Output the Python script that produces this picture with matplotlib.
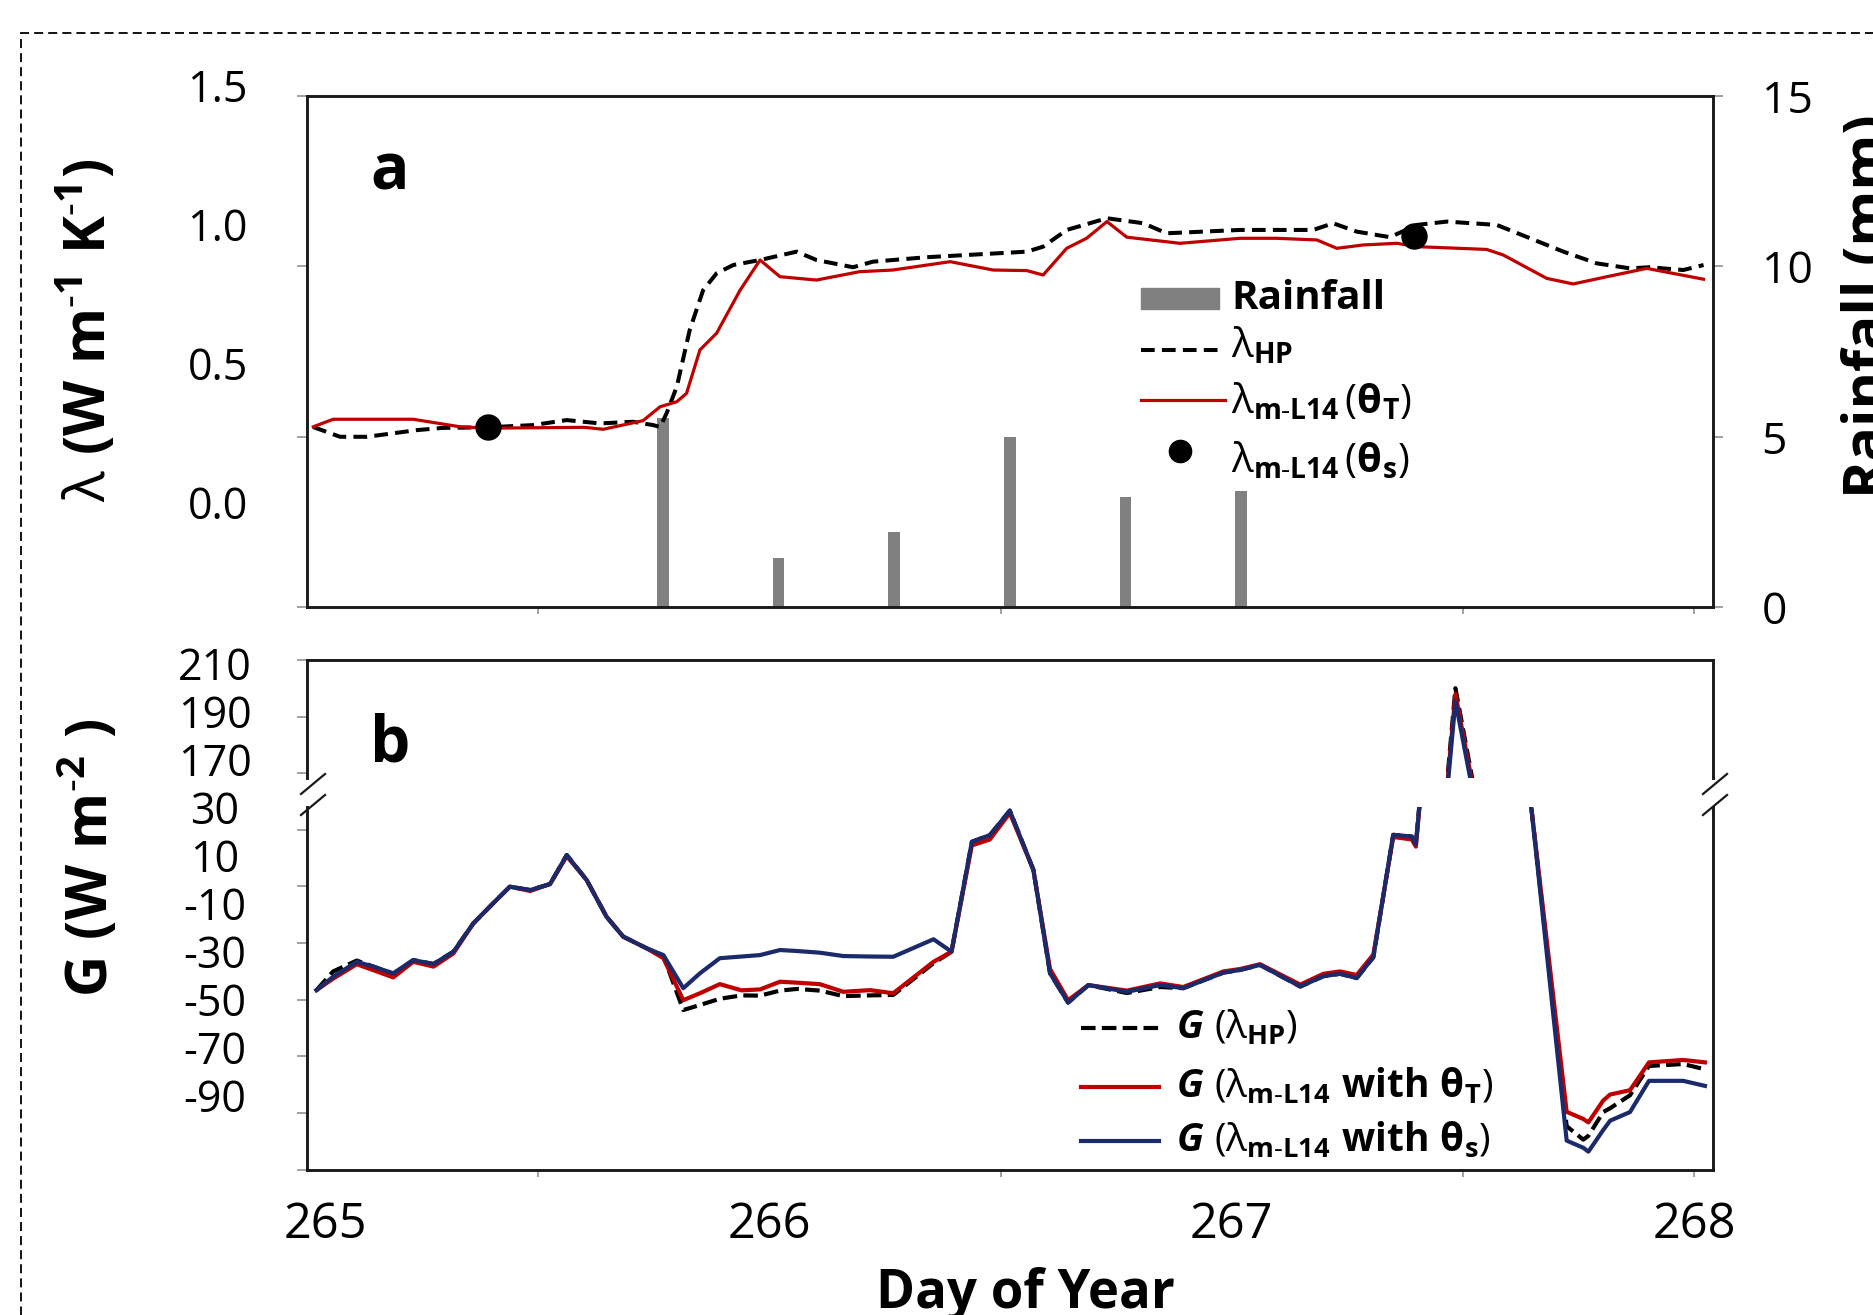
import matplotlib
matplotlib.use("Agg")
import matplotlib.pyplot as plt
import matplotlib.transforms as mtransforms
from matplotlib.lines import Line2D
from matplotlib.patches import Rectangle

# ------------------------------------------------------------------ data
# panel a : lambda (W m-1 K-1) vs day of year
lam_hp_day = [265.014, 265.072, 265.130, 265.238, 265.294, 265.392, 265.489, 265.562, 265.634, 265.705,
              265.749, 265.764, 265.778, 265.800, 265.828, 265.857, 265.886, 265.922, 265.980, 266.059,
              266.102, 266.181, 266.224, 266.340, 266.557, 266.592, 266.643, 266.730, 266.809, 266.859,
              267.018, 267.176, 267.219, 267.270, 267.342, 267.400, 267.465, 267.573, 267.645, 267.717,
              267.789, 267.861, 267.903, 267.976, 268.020]
lam_hp = [0.271, 0.236, 0.236, 0.260, 0.268, 0.270, 0.278, 0.296, 0.284, 0.290,
          0.278, 0.271, 0.321, 0.416, 0.620, 0.763, 0.823, 0.853, 0.871, 0.901,
          0.871, 0.845, 0.865, 0.881, 0.901, 0.919, 0.979, 1.021, 1.003, 0.967,
          0.979, 0.979, 1.003, 0.973, 0.953, 0.997, 1.009, 0.997, 0.949, 0.901,
          0.859, 0.841, 0.845, 0.835, 0.853]

lam_mT_day = [265.014, 265.057, 265.230, 265.331, 265.389, 265.600, 265.641, 265.727, 265.764, 265.800,
              265.821, 265.850, 265.886, 265.937, 265.980, 266.023, 266.102, 266.195, 266.267, 266.391,
              266.484, 266.557, 266.592, 266.643, 266.686, 266.730, 266.773, 266.888, 267.018, 267.097,
              267.184, 267.227, 267.284, 267.357, 267.400, 267.551, 267.587, 267.681, 267.738, 267.811,
              267.897, 268.020]
lam_mT = [0.272, 0.299, 0.299, 0.272, 0.267, 0.270, 0.263, 0.294, 0.344, 0.362,
          0.392, 0.548, 0.608, 0.763, 0.871, 0.811, 0.799, 0.829, 0.835, 0.865,
          0.835, 0.833, 0.817, 0.913, 0.949, 1.009, 0.953, 0.931, 0.949, 0.949,
          0.943, 0.913, 0.925, 0.931, 0.919, 0.909, 0.889, 0.805, 0.785, 0.811,
          0.841, 0.802]

lam_mS_day = [265.392, 267.393]
lam_mS = [0.270, 0.957]

rain_day = [265.77, 266.02, 266.27, 266.52, 266.77, 267.02]
rain_mm = [5.55, 1.45, 2.2, 5.0, 3.25, 3.4]

# panel b : soil heat flux G (W m-2)
g_day = [265.021, 265.057, 265.108, 265.144, 265.187, 265.230, 265.274, 265.317, 265.360, 265.403,
         265.439, 265.483, 265.526, 265.562, 265.605, 265.648, 265.684, 265.735, 265.771, 265.814,
         265.850, 265.893, 265.940, 265.980, 266.023, 266.060, 266.109, 266.160, 266.218, 266.268,
         266.355, 266.394, 266.438, 266.477, 266.520, 266.571, 266.607, 266.646, 266.690, 266.773,
         266.845, 266.895, 266.982, 267.018, 267.061, 267.148, 267.198, 267.234, 267.270, 267.306,
         267.349, 267.389, 267.398, 267.4835, 267.648, 267.724, 267.760, 267.771, 267.803, 267.818,
         267.861, 267.902, 267.976, 268.023]
g_hp = [-46.3, -38.5, -34.0, -36.5, -39.5, -33.8, -35.4, -30.3, -18.5, -10.1,
        -3.2, -4.6, -2.1, 10.0, -0.4, -15.7, -24.0, -28.9, -32.0, -54.6,
        -52.5, -49.9, -48.5, -48.6, -46.5, -45.8, -46.5, -48.8, -48.5, -48.3,
        -35.1, -30.3, 15.5, 18.3, 28.5, 3.8, -39.3, -51.5, -44.2, -47.5,
        -45.0, -45.5, -39.0, -37.9, -35.8, -44.8, -40.5, -39.5, -41.3, -32.6,
        18.4, 17.7, 14.5, 199.4, 29.0, -103.0, -108.6, -107.0, -97.1, -95.5,
        -90.1, -77.9, -77.1, -79.3]
g_mT = [-46.3, -41.5, -35.5, -38.0, -41.0, -34.5, -36.5, -31.0, -18.5, -10.1,
        -3.2, -5.0, -2.1, 9.5, -0.4, -15.7, -24.0, -28.9, -33.0, -50.5,
        -47.6, -43.8, -46.4, -46.0, -42.8, -43.2, -43.8, -47.0, -46.3, -47.6,
        -34.5, -30.3, 14.0, 16.5, 27.5, 3.8, -37.5, -50.5, -44.2, -46.5,
        -43.5, -45.0, -38.5, -37.5, -35.5, -44.0, -39.5, -38.5, -40.0, -31.5,
        17.5, 16.5, 13.5, 197.0, 29.0, -97.0, -100.0, -101.4, -92.3, -89.8,
        -88.0, -76.4, -75.4, -76.4]
g_mS = [-46.3, -40.7, -34.5, -36.5, -39.3, -33.8, -35.4, -30.3, -18.5, -10.1,
        -3.2, -4.6, -2.1, 10.0, -0.4, -15.7, -24.0, -28.9, -31.7, -45.5,
        -39.3, -33.0, -32.3, -31.7, -29.6, -30.0, -30.7, -32.1, -32.3, -32.4,
        -25.1, -30.3, 15.5, 18.3, 28.5, 3.8, -39.3, -51.5, -44.2, -47.0,
        -44.2, -45.5, -39.0, -37.9, -35.8, -44.8, -40.5, -39.5, -41.3, -32.6,
        18.4, 17.7, 14.5, 194.0, 29.0, -109.0, -112.0, -113.6, -104.6, -100.7,
        -97.1, -84.1, -84.1, -86.2]

lam_tick_vals = [0.0, 0.5, 1.0, 1.5]
lam_tick_labels = ["0.0", "0.5", "1.0", "1.5"]
rain_ticks = [0, 5, 10, 15]
g_upper_ticks = [210, 190, 170]
g_lower_ticks = [30, 10, -10, -30, -50, -70, -90]
day_ticks = [265, 266, 267, 268]
day_marks = [265.5, 266.5, 267.5, 268]

# ------------------------------------------------------------------ style
FONT = "Open Sans"
plt.rcParams["font.family"] = [FONT, "DejaVu Sans"]
plt.rcParams["mathtext.fontset"] = "custom"
plt.rcParams["mathtext.rm"] = FONT
plt.rcParams["mathtext.it"] = FONT + ":italic"
plt.rcParams["mathtext.bf"] = FONT + ":bold"
plt.rcParams["mathtext.bfit"] = FONT + ":italic:bold"
plt.rcParams["mathtext.sf"] = FONT

RED = "#C00000"
BLUE = "#1B2A6B"
BARGREY = "#808080"
TICKC = "#9a9a9a"
SPINEC = "#1a1a1a"

W, H, DPI = 1873, 1315, 100
fig = plt.figure(figsize=(W / DPI, H / DPI), dpi=DPI)
fig.patch.set_facecolor("white")


def fx(x):
    return x / W


def fy(y):
    return 1 - y / H


X0, X1 = 306.8, 1713.0


def rect(top, bottom):
    return [fx(X0), fy(bottom), fx(X1) - fx(X0), fy(top) - fy(bottom)]


XLIM = (265.0, 268.0404)
LAM_LIM = (-0.3768, 1.4601)
GU_LIM = (162.0, 211.17)
GL_LIM = (-121.04, 30.0)

ax_a = fig.add_axes(rect(96, 607.4))
ax_r = ax_a.twinx()
ax_bu = fig.add_axes(rect(660, 778))
ax_bl = fig.add_axes(rect(807, 1169.5))

# ------------------------------------------------------------------ panel a
ax_r.bar(rain_day, rain_mm, width=0.025, color=BARGREY, zorder=1)
ax_r.set_ylim(0, 15)
ax_r.set_yticks(rain_ticks, labels=[str(v) for v in rain_ticks])
ax_r.tick_params(axis="y", direction="out", length=7, width=1.3, color=TICKC,
                 labelsize=32, pad=28)
for s in ax_r.spines.values():
    s.set_visible(False)

ax_a.set_zorder(ax_r.get_zorder() + 1)
ax_a.patch.set_visible(False)
ax_a.plot(lam_hp_day, lam_hp, color="black", lw=2.9, ls=(0, (3.4, 1.8)), zorder=3)
ax_a.plot(lam_mT_day, lam_mT, color=RED, lw=2.3, zorder=4)
ax_a.plot(lam_mS_day, lam_mS, "o", color="black", ms=18, ls="none", zorder=5)
ax_a.set_xlim(XLIM)
ax_a.set_ylim(LAM_LIM)
ax_a.set_yticks([LAM_LIM[0] + f * (LAM_LIM[1] - LAM_LIM[0]) for f in (0, 1 / 3, 2 / 3, 1)],
                labels=[])
ax_a.tick_params(axis="y", direction="out", length=7, width=1.3, color=TICKC)
ax_a.set_xticks(day_marks, labels=[])
ax_a.tick_params(axis="x", direction="out", length=5, width=1.3, color=TICKC)
for s in ax_a.spines.values():
    s.set_linewidth(2.1)
    s.set_color(SPINEC)

trans_a = mtransforms.blended_transform_factory(fig.transFigure, ax_a.transData)
for v, lab in zip(lam_tick_vals, lam_tick_labels):
    ax_a.text(fx(217.6), v, lab, transform=trans_a, ha="center", va="center_baseline",
              fontsize=31, clip_on=False)

# ------------------------------------------------------------------ panel b
for ax in (ax_bu, ax_bl):
    ax.plot(g_day, g_hp, color="black", lw=3.0, ls=(0, (3.5, 1.5)), zorder=2)
    ax.plot(g_day, g_mT, color=RED, lw=3.0, zorder=3)
    ax.plot(g_day, g_mS, color=BLUE, lw=3.0, zorder=4)
    ax.set_xlim(XLIM)
    for s in ax.spines.values():
        s.set_linewidth(2.1)
        s.set_color(SPINEC)
ax_bu.set_ylim(GU_LIM)
ax_bl.set_ylim(GL_LIM)
ax_bu.spines["bottom"].set_visible(False)
ax_bl.spines["top"].set_visible(False)
ax_bu.tick_params(axis="x", bottom=False, labelbottom=False)

# tick marks: 10 evenly spaced marks along the whole panel height
top_px, bot_px = 660.0, 1169.5
up_ticks, lo_ticks = [], []
for k in range(10):
    ypx = top_px + k * (bot_px - top_px) / 9
    if ypx <= 778:
        disp = fig.transFigure.transform((0, fy(ypx)))
        up_ticks.append(ax_bu.transData.inverted().transform(disp)[1])
    elif ypx >= 807:
        disp = fig.transFigure.transform((0, fy(ypx)))
        lo_ticks.append(ax_bl.transData.inverted().transform(disp)[1])
ax_bu.set_yticks(up_ticks, labels=[])
ax_bl.set_yticks(lo_ticks, labels=[])
for ax in (ax_bu, ax_bl):
    ax.tick_params(axis="y", direction="out", length=7, width=1.3, color=TICKC)

ax_bl.set_xticks(day_marks, labels=[])
ax_bl.tick_params(axis="x", direction="out", length=5, width=1.3, color=TICKC)

for ax, vals in ((ax_bu, g_upper_ticks), (ax_bl, g_lower_ticks)):
    tr = mtransforms.blended_transform_factory(fig.transFigure, ax.transData)
    for v in vals:
        ax.text(fx(215), v, f"{v:d}", transform=tr, ha="center", va="center_baseline",
                fontsize=31, clip_on=False)

trx = mtransforms.blended_transform_factory(ax_bl.transData, fig.transFigure)
for i, d in enumerate(day_ticks):
    t = trx
    if i == 0:
        t = trx + mtransforms.ScaledTranslation(0.19, 0, fig.dpi_scale_trans)
    ax_bl.text(d, fy(1238.3), f"{d:d}", transform=t, ha="center", va="baseline",
               fontsize=35, clip_on=False)

# axis-break marks
for xc in (313.0, 1715.0):
    for yc in (784.0, 805.0):
        fig.add_artist(Line2D([fx(xc - 12), fx(xc + 12)], [fy(yc + 10), fy(yc - 10)],
                              transform=fig.transFigure, color=SPINEC, lw=1.6))

# ------------------------------------------------------------------ texts
fig.text(fx(390), fy(189), "a", ha="center", va="baseline", fontsize=46, fontweight="bold")
fig.text(fx(390), fy(761), "b", ha="center", va="baseline", fontsize=46, fontweight="bold")

fig.text(fx(88), fy(330), r"$\mathrm{λ}\ \mathbf{(W\ m^{\text{-}1}\ K^{\text{-}1})}$",
         rotation=90, ha="center", va="center", fontsize=41)
fig.text(fx(90), fy(858), r"$\mathbf{G\ (W\ m^{\text{-}2}\ )}$",
         rotation=90, ha="center", va="center", fontsize=41)
fig.text(fx(1841), fy(306), "Rainfall (mm)", rotation=90, ha="left", va="center",
         fontsize=41, fontweight="bold")
fig.text(fx(1025.6), fy(1267), "Day of Year", ha="center", va="top", fontsize=38,
         fontweight="bold")

# ------------------------------------------------------------------ legend a
fig.add_artist(Rectangle((fx(1141), fy(309)), fx(1219) - fx(1141), fy(288) - fy(309),
                         transform=fig.transFigure, color=BARGREY))
fig.add_artist(Line2D([fx(1141), fx(1223)], [fy(350), fy(350)], transform=fig.transFigure,
                      color="black", lw=2.9, ls=(0, (3.4, 1.8))))
fig.add_artist(Line2D([fx(1141), fx(1225)], [fy(400), fy(400)], transform=fig.transFigure,
                      color=RED, lw=2.3))
fig.add_artist(Line2D([fx(1180)], [fy(451)], transform=fig.transFigure, marker="o",
                      color="black", ms=16, ls="none"))
LA = 29
fig.text(fx(1231), fy(309), "Rainfall", fontsize=LA, fontweight="bold", va="baseline")
fig.text(fx(1231), fy(357), r"$\mathrm{λ}_{\mathbf{HP}}$", fontsize=LA, va="baseline")
fig.text(fx(1231), fy(413),
         r"$\mathrm{λ}_{\mathbf{m}\text{-}\mathbf{L14}}\,\mathrm{(}\mathbf{θ}_{\mathbf{T}}\mathrm{)}$",
         fontsize=LA, va="baseline")
fig.text(fx(1231), fy(472),
         r"$\mathrm{λ}_{\mathbf{m}\text{-}\mathbf{L14}}\,\mathrm{(}\mathbf{θ}_{\mathbf{s}}\mathrm{)}$",
         fontsize=LA, va="baseline")

# ------------------------------------------------------------------ legend b
fig.add_artist(Line2D([fx(1081), fx(1159)], [fy(1027.6), fy(1027.6)], transform=fig.transFigure,
                      color="black", lw=3.0, ls=(0, (3.5, 1.5))))
fig.add_artist(Line2D([fx(1081), fx(1159)], [fy(1086.5), fy(1086.5)], transform=fig.transFigure,
                      color=RED, lw=3.0))
fig.add_artist(Line2D([fx(1081), fx(1159)], [fy(1141), fy(1141)], transform=fig.transFigure,
                      color=BLUE, lw=3.0))
LB = 28
fig.text(fx(1176), fy(1038.5), r"$\mathbfit{G}\ \mathrm{(λ}_{\mathbf{HP}}\mathrm{)}$",
         fontsize=LB, va="baseline")
fig.text(fx(1176), fy(1097.5),
         r"$\mathbfit{G}\ \mathrm{(λ}_{\mathbf{m}\text{-}\mathbf{L14}}\ \mathbf{with\ θ}_{\mathbf{T}}\mathrm{)}$",
         fontsize=LB, va="baseline")
fig.text(fx(1176), fy(1152),
         r"$\mathbfit{G}\ \mathrm{(λ}_{\mathbf{m}\text{-}\mathbf{L14}}\ \mathbf{with\ θ}_{\mathbf{s}}\mathrm{)}$",
         fontsize=LB, va="baseline")

# dashed frame (cropped at right and bottom)
fig.add_artist(Rectangle((fx(21.4), -0.1), 1.3, fy(33.2) + 0.1, transform=fig.transFigure,
                         fill=False, edgecolor="black", lw=1.3, ls=(0, (5, 2.8))))

fig.savefig("out.png", dpi=DPI)
